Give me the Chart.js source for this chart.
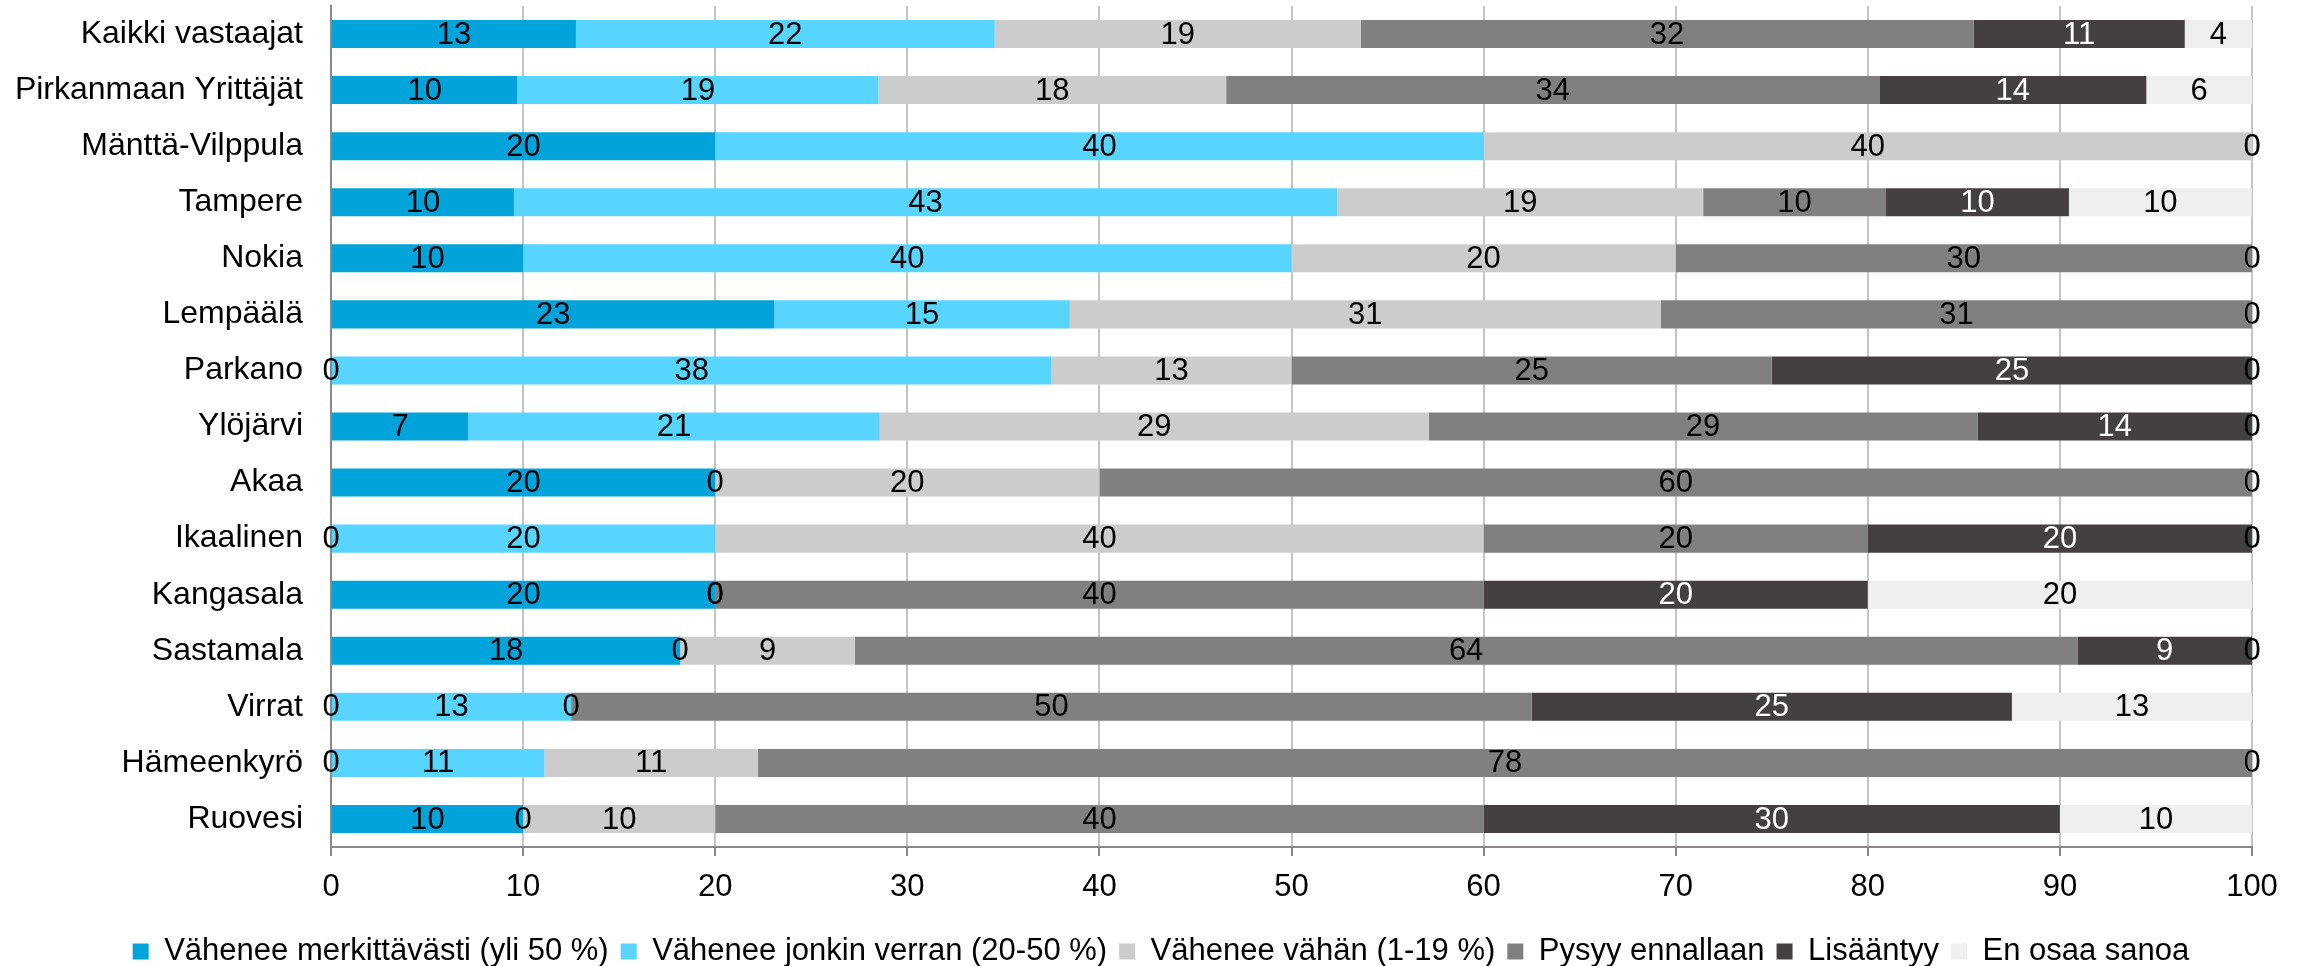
<!DOCTYPE html>
<html>
<head>
<meta charset="utf-8">
<script src="https://cdn.jsdelivr.net/npm/chart.js@4"></script>
<style>
  html, body { margin: 0; padding: 0; background: #fff; }
</style>
</head>
<body>
<canvas id="chart" width="2307" height="966"></canvas>
<script>
const categories = ["Kaikki vastaajat", "Pirkanmaan Yrittäjät", "Mänttä-Vilppula", "Tampere", "Nokia",
  "Lempäälä", "Parkano", "Ylöjärvi", "Akaa", "Ikaalinen", "Kangasala", "Sastamala", "Virrat",
  "Hämeenkyrö", "Ruovesi"];

const seriesNames = ["Vähenee merkittävästi (yli 50 %)", "Vähenee jonkin verran (20-50 %)",
  "Vähenee vähän (1-19 %)", "Pysyy ennallaan", "Lisääntyy", "En osaa sanoa"];

// shares in % (labels show them rounded)
const vaheneeMerkittavasti = [12.75, 9.7, 20, 9.52, 10, 23.08, 0, 7.14, 20, 0, 20, 18.18, 0, 0, 10];
const vaheneeJonkin = [21.8, 18.8, 40, 42.86, 40, 15.38, 37.5, 21.43, 0, 20, 0, 0, 12.5, 11.11, 0];
const vaheneeVahan = [19.05, 18.1, 40, 19.05, 20, 30.77, 12.5, 28.57, 20, 40, 0, 9.09, 0, 11.11, 10];
const pysyyEnnallaan = [31.9, 34.0, 0, 9.52, 30, 30.77, 25, 28.57, 60, 20, 40, 63.64, 50, 77.78, 40];
const lisaantyy = [11.0, 13.9, 0, 9.52, 0, 0, 25, 14.29, 0, 20, 20, 9.09, 25, 0, 30];
const enOsaaSanoa = [3.5, 5.5, 0, 9.52, 0, 0, 0, 0, 0, 0, 20, 0, 12.5, 0, 10];

const xTicks = [0, 10, 20, 30, 40, 50, 60, 70, 80, 90, 100];

const colors = ["#00A3DA", "#57D5FF", "#CCCCCC", "#808080", "#443F40", "#EFEFEF"];
const labelColors = ["#000", "#000", "#000", "#000", "#fff", "#000"];
const FONT = '"Liberation Sans", Arial, sans-serif';

const allSeries = [vaheneeMerkittavasti, vaheneeJonkin, vaheneeVahan, pysyyEnnallaan, lisaantyy, enOsaaSanoa];

// draw the rounded value in the middle of each segment
const barLabels = {
  id: "barLabels",
  afterDatasetsDraw(chart) {
    const ctx = chart.ctx;
    ctx.save();
    ctx.font = "31px " + FONT;
    ctx.textAlign = "center";
    ctx.textBaseline = "middle";
    chart.data.datasets.forEach((ds, i) => {
      const meta = chart.getDatasetMeta(i);
      meta.data.forEach((bar, j) => {
        ctx.fillStyle = labelColors[i];
        ctx.fillText(Math.round(ds.data[j]), (bar.x + bar.base) / 2, bar.y + 1);
      });
    });
    ctx.restore();
  }
};

// move the legend row down and centre it on the whole canvas
const legendShift = {
  id: "legendShift",
  afterLayout(chart) {
    chart.legend.top += 11;
    chart.legend.bottom += 11;
    chart.legend.left += 35;
    chart.legend.right += 35;
  }
};

new Chart(document.getElementById("chart").getContext("2d"), {
  type: "bar",
  data: {
    labels: categories,
    datasets: allSeries.map((d, i) => ({
      label: seriesNames[i],
      data: d,
      backgroundColor: colors[i],
      borderWidth: 0,
      barPercentage: 0.5,
      categoryPercentage: 1.0
    }))
  },
  options: {
    indexAxis: "y",
    responsive: false,
    devicePixelRatio: 1,
    animation: false,
    layout: { padding: { left: 0, right: 55, top: 6, bottom: 0 } },
    scales: {
      x: {
        stacked: true,
        min: 0,
        max: 100,
        afterBuildTicks: (scale) => { scale.ticks = xTicks.map(v => ({ value: v })); },
        afterFit: (scale) => { scale.height = 66; },
        ticks: { color: "#000", font: { size: 31, family: FONT }, padding: 13 },
        grid: { color: "#C4C4C4", lineWidth: 2, tickColor: "#898989", tickLength: 9 },
        border: { color: "#898989", width: 2 }
      },
      y: {
        stacked: true,
        afterFit: (scale) => { scale.width = 331; scale.paddingTop = 0; scale.paddingBottom = 0; },
        ticks: { color: "#000", font: { size: 32, family: FONT }, padding: 28 },
        grid: { display: false, drawTicks: false },
        border: { color: "#898989", width: 2 }
      }
    },
    plugins: {
      legend: {
        position: "bottom",
        labels: {
          color: "#000",
          font: { size: 31, family: FONT },
          boxWidth: 16,
          boxHeight: 16,
          padding: 12
        }
      },
      tooltip: { enabled: false }
    }
  },
  plugins: [barLabels, legendShift]
});
</script>
</body>
</html>
